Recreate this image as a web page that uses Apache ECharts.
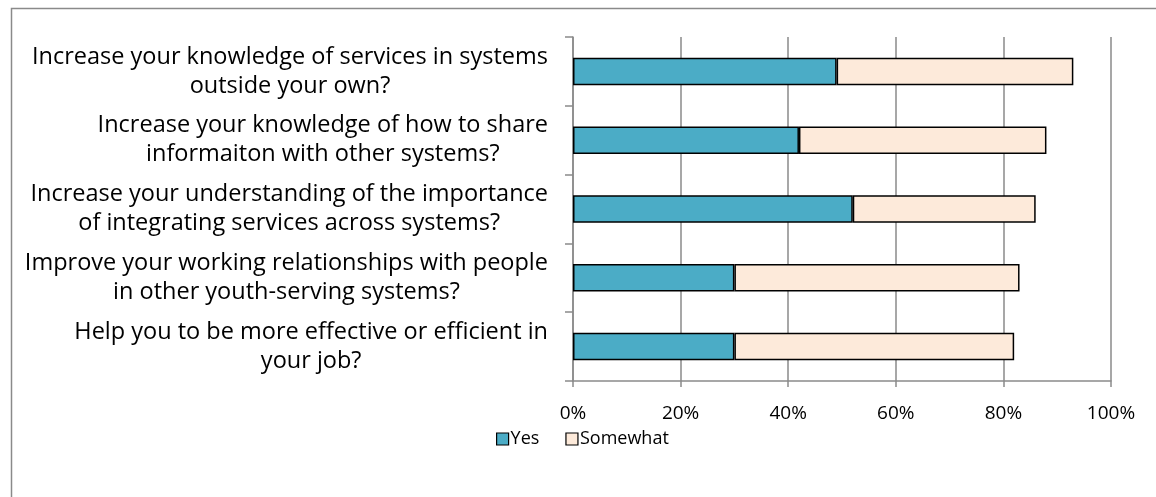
<!DOCTYPE html>
<html>
<head>
<meta charset="utf-8">
<script src="https://cdn.jsdelivr.net/npm/echarts@6/dist/echarts.min.js"></script>
<style>
html,body{margin:0;padding:0;background:#fff;}
#chart{width:1156px;height:497px;}
</style>
</head>
<body>
<div id="chart"></div>
<script>
const categories = [
  "Increase your knowledge of services in systems\noutside your own?",
  "Increase your knowledge of how to share\ninformaiton with other systems?",
  "Increase your understanding of the importance\nof integrating services across systems?",
  "Improve your working relationships with people\nin other youth-serving systems?",
  "Help you to be more effective or efficient in\nyour job?"
];
const yesValues = [49, 42, 52, 30, 30];
const somewhatValues = [44, 46, 34, 53, 52];
const xTicks = [0, 20, 40, 60, 80, 100];

const FONT = '"Open Sans"';
const chart = echarts.init(document.getElementById('chart'));
chart.setOption({
  animation: false,
  backgroundColor: '#fff',
  graphic: [{
    type: 'rect',
    shape: { x: 11.5, y: 8.5, width: 1200, height: 600 },
    style: { fill: 'none', stroke: '#8a8a8a', lineWidth: 1.5 },
    silent: true
  }],
  grid: { left: 573, right: 45, top: 37, bottom: 116, containLabel: false },
  legend: {
    data: ['Yes', 'Somewhat'],
    left: 491,
    top: 425,
    itemWidth: 12,
    itemHeight: 12,
    itemGap: 26,
    icon: 'rect',
    itemStyle: { borderColor: '#000', borderWidth: 1.2 },
    textStyle: { fontFamily: FONT, fontSize: 18, color: '#000', padding: [0, 0, 0, -3] }
  },
  xAxis: {
    type: 'value',
    min: xTicks[0],
    max: xTicks[xTicks.length - 1],
    interval: 20,
    axisLine: { show: true, lineStyle: { color: '#8a8a8a', width: 1.5 } },
    axisTick: { show: true, length: 6, lineStyle: { color: '#8a8a8a', width: 1.5 } },
    splitLine: { show: true, lineStyle: { color: '#8a8a8a', width: 1.5 } },
    axisLabel: { formatter: '{value}%', fontFamily: FONT, fontSize: 19, color: '#000', margin: 23 }
  },
  yAxis: {
    type: 'category',
    inverse: true,
    data: categories,
    axisLine: { show: true, lineStyle: { color: '#8a8a8a', width: 1.5 } },
    axisTick: { show: true, length: 8, lineStyle: { color: '#8a8a8a', width: 1.5 } },
    axisLabel: {
      align: 'right', margin: 25,
      formatter: function (v) {
        return v.split('\n').map(function (l) { return '{c|' + l + '}'; }).join('\n');
      },
      rich: {
        c: { align: 'center', fontFamily: FONT, fontSize: 23.5, color: '#000', lineHeight: 29 }
      }
    }
  },
  series: [
    {
      name: 'Yes', type: 'bar', stack: 'total', data: yesValues,
      barCategoryGap: '60%',
      itemStyle: { color: '#4BACC6', borderColor: '#000', borderWidth: 1.5 }
    },
    {
      name: 'Somewhat', type: 'bar', stack: 'total', data: somewhatValues,
      barCategoryGap: '60%',
      itemStyle: { color: '#FDEADA', borderColor: '#000', borderWidth: 1.5 }
    }
  ]
});
</script>
</body>
</html>
